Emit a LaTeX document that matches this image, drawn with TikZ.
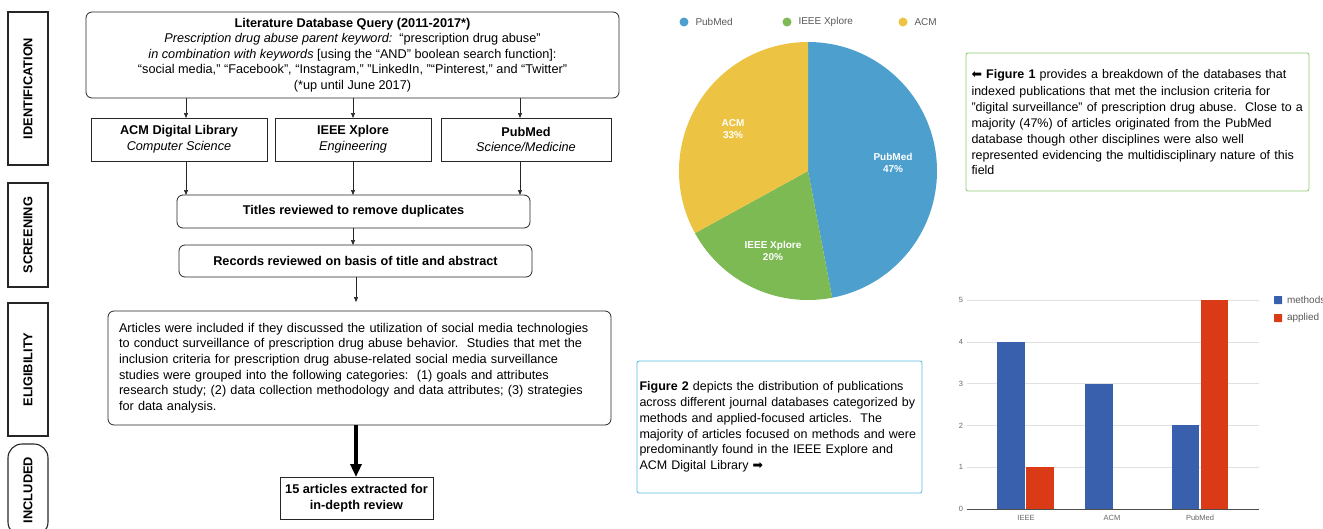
\documentclass[tikz,border=0pt]{standalone}
\usepackage{fontspec}
\setmainfont{Liberation Sans}
\setsansfont{Liberation Sans}
\newfontfamily\arrowfont{DejaVu Sans}
\usetikzlibrary{arrows.meta,positioning}
\definecolor{pieblue}{RGB}{77,159,206}
\definecolor{piegreen}{RGB}{125,186,84}
\definecolor{pieyellow}{RGB}{236,195,66}
\definecolor{methodsblue}{RGB}{57,96,172}
\definecolor{appliedred}{RGB}{219,58,22}
\definecolor{notegreen}{RGB}{140,200,110}
\definecolor{noteblue}{RGB}{90,185,225}
\begin{document}
\begin{tikzpicture}[
    x=1pt, y=-1pt,
    every node/.style={inner sep=0pt, outer sep=0pt},
    body/.style={font=\fontsize{12.7}{15.6}\selectfont},
    phase/.style={draw=black!85, line width=1.1pt, rotate=90, minimum height=40,
        font=\bfseries\fontsize{12.8}{14}\selectfont},
    stage/.style={draw=black!85, line width=0.8pt, rounded corners=6, align=center, body},
    source/.style={draw=black!85, line width=0.8pt, align=center, minimum height=43, body},
    flow/.style={draw=black!85, line width=0.6pt, -{Triangle[length=5pt,width=4pt]}},
    bigflow/.style={line width=3.2pt, -{Triangle[length=13pt,width=11pt]}},
    slice/.style={font=\bfseries\fontsize{10}{12.5}\selectfont, text=white, align=center},
    legdot/.style={circle, minimum size=9},
    legtext/.style={font=\fontsize{10}{12}\selectfont, text=black!65},
    note/.style={rounded corners=2, line width=0.8pt, align=left, font=\fontsize{12.5}{15.8}\selectfont},
    gridline/.style={draw=black!12, line width=0.6pt},
    ticklabel/.style={font=\fontsize{7.5}{9}\selectfont, text=black!60},
    chartkey/.style={minimum size=8, rounded corners=0.5}
]
\useasboundingbox (0,0) rectangle (1323,528);
\clip (0,0) rectangle (1323,528);

% phases
\node[phase, minimum width=153] (ident) at (28,88.5) {IDENTIFICATION};
\node[phase, minimum width=104] (screen) at (28,235) {SCREENING};
\node[phase, minimum width=133] (elig) at (28,369.5) {ELIGIBILITY};
\node[phase, minimum width=92, rounded corners=14] (incl) at (28,490) {INCLUDED};

% flow chart
\node[stage, minimum width=533, minimum height=86] (query) at (352.5,55) {%
    \textbf{Literature Database Query (2011-2017*)}\\
    \textit{Prescription drug abuse parent keyword:}\ \ “prescription drug abuse”\\
    \textit{in combination with keywords} [using the “AND” boolean search function]:\\
    “social media,” “Facebook”, “Instagram,” "LinkedIn, "“Pinterest,” and “Twitter”\\
    (*up until June 2017)};
\node[source, minimum width=176] (acm) at (179,139.5) {\textbf{ACM Digital Library}\\\textit{Computer Science}};
\node[source, minimum width=156] (ieee) at (353,139.5) {\textbf{IEEE Xplore}\\\textit{Engineering}};
\node[source, minimum width=170] (pubmed) at (526,139.5) {\textbf{PubMed}\\\textit{Science/Medicine}};
\node[stage, minimum width=353, minimum height=33] (titles) at (353.5,211.5) {\textbf{Titles reviewed to remove duplicates}};
\node[stage, minimum width=353, minimum height=32] (records) at (355.5,261) {\textbf{Records reviewed on basis of title and abstract}};
\node[stage, minimum width=503, minimum height=114, text width=481, align=left] (criteria) at (359.5,368) {%
    Articles were included if they discussed the utilization of social media technologies\\
    to conduct surveillance of prescription drug abuse behavior.\ \ Studies that met the\\
    inclusion criteria for prescription drug abuse-related social media surveillance\\
    studies were grouped into the following categories:\ \ (1) goals and attributes\\
    research study; (2) data collection methodology and data attributes; (3) strategies\\
    for data analysis.};
\node[source, minimum width=153, minimum height=42, font=\bfseries\fontsize{12.7}{15.6}\selectfont] (final) at (356.5,498) {15 articles extracted for\\in-depth review};

\coordinate (c1) at (186,0);
\coordinate (c2) at (353,0);
\coordinate (c3) at (520,0);
\coordinate (c4) at (356,0);
\draw[flow] (query.south -| c1) -- (acm.north -| c1);
\draw[flow] (query.south -| c2) -- (ieee.north -| c2);
\draw[flow] (query.south -| c3) -- (pubmed.north -| c3);
\draw[flow] (acm.south -| c1) -- (titles.north -| c1);
\draw[flow] (ieee.south -| c2) -- (titles.north -| c2);
\draw[flow] (pubmed.south -| c3) -- (titles.north -| c3);
\draw[flow] (titles.south -| c2) -- (records.north -| c2);
\draw[flow, shorten >=9pt] (records.south -| c4) -- (criteria.north -| c4);
\draw[bigflow] (criteria.south -| c4) -- (final.north -| c4);

% pie chart
\coordinate (pc) at (808,171);
\fill[pieblue] (pc) -- ++(90:129pt) arc[start angle=90, end angle=-79.2, radius=129pt] -- cycle;
\fill[piegreen] (pc) -- ++(-79.2:129pt) arc[start angle=-79.2, end angle=-151.2, radius=129pt] -- cycle;
\fill[pieyellow] (pc) -- ++(-151.2:129pt) arc[start angle=-151.2, end angle=-270, radius=129pt] -- cycle;
\node[slice] (spub) at (893,163) {PubMed\\47\%};
\node[slice] (sieee) at (773,251) {IEEE Xplore\\20\%};
\node[slice] (sacm) at (733,129) {ACM\\33\%};

\node[legdot, fill=pieblue] (dpub) at (684,22) {};
\node[legtext, right=7pt of dpub] (tpub) {PubMed};
\node[legdot, fill=piegreen] (dieee) at (787,22) {};
\node[legtext, right=7pt of dieee] (tieee) {IEEE Xplore};
\node[legdot, fill=pieyellow] (dacm) at (903,22) {};
\node[legtext, right=7pt of dacm] (tacm) {ACM};

% notes
\node[note, draw=notegreen, minimum width=343, minimum height=138, text width=332] (fig1) at (1137.5,122) {%
    {\arrowfont ⬅} \textbf{Figure 1} provides a breakdown of the databases that\\[2pt]
    indexed publications that met the inclusion criteria for\\
    "digital surveillance" of prescription drug abuse.\ \ Close to a\\
    majority (47\%) of articles originated from the PubMed\\
    database though other disciplines were also well\\
    represented evidencing the multidisciplinary nature of this\\
    field};
\node[note, draw=noteblue, minimum width=285, minimum height=132, text width=280] (fig2) at (779.5,427) {%
    \textbf{Figure 2} depicts the distribution of publications\\
    across different journal databases categorized by\\
    methods and applied-focused articles.\ \ The\\
    majority of articles focused on methods and were\\
    predominantly found in the IEEE Explore and\\
    ACM Digital Library {\arrowfont ➡}};

% bar chart
\foreach \v in {1,...,5}{
    \draw[gridline] (967,{509-41.8*\v}) -- (1259,{509-41.8*\v});
    \node[ticklabel, anchor=east] (y\v) at (963,{509-41.8*\v}) {\v};
}
\node[ticklabel, anchor=east] (y0) at (963,509) {0};
\fill[methodsblue] (997,509) rectangle (1025,{509-4*41.8});
\fill[appliedred] (1026,509) rectangle (1054,{509-1*41.8});
\fill[methodsblue] (1085,509) rectangle (1113,{509-3*41.8});
\fill[methodsblue] (1172,509) rectangle (1199,{509-2*41.8});
\fill[appliedred] (1201,509) rectangle (1228,{509-5*41.8});
\draw[black!70, line width=0.7pt] (967,509) -- (1259,509);
\node[ticklabel] (xieee) at (1026,518) {IEEE};
\node[ticklabel] (xacm) at (1112,518) {ACM};
\node[ticklabel] (xpub) at (1200,518) {PubMed};

\node[chartkey, fill=methodsblue] (kmeth) at (1278,300) {};
\node[legtext, right=5pt of kmeth] (tmeth) {methods};
\node[chartkey, fill=appliedred] (kappl) at (1278,318) {};
\node[legtext, right=5pt of kappl] (tappl) {applied};
\end{tikzpicture}
\end{document}
